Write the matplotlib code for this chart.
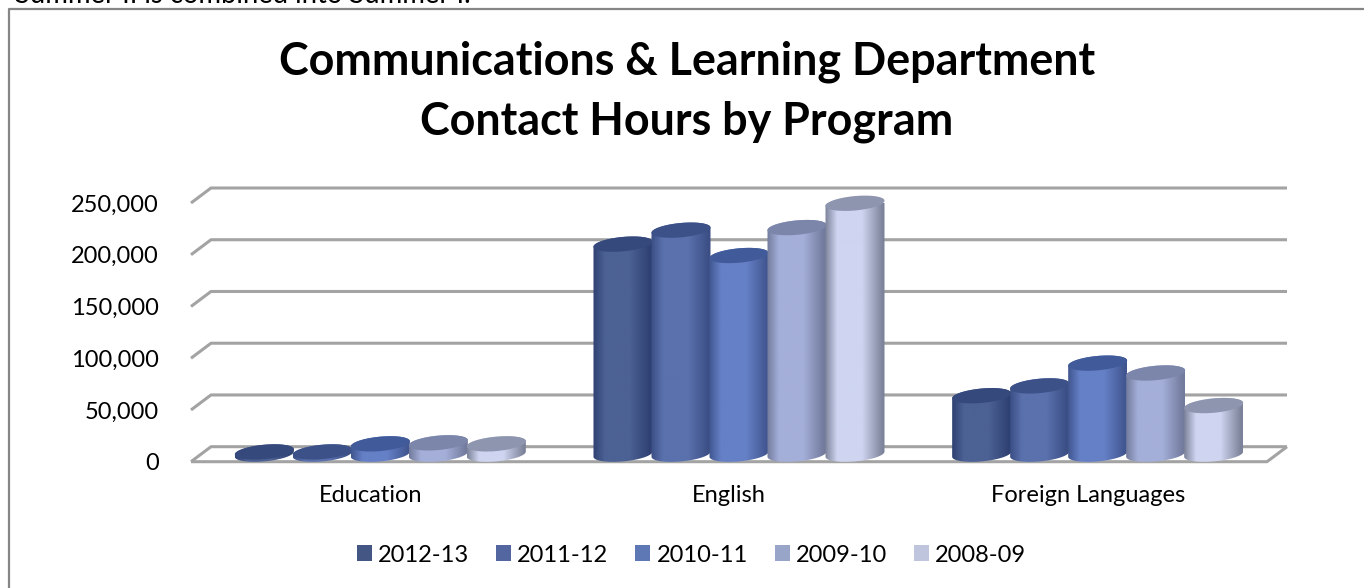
import numpy as np
import matplotlib
matplotlib.use("Agg")
import matplotlib.pyplot as plt
from matplotlib.colors import LinearSegmentedColormap
from matplotlib.lines import Line2D
from matplotlib.patches import Patch, PathPatch
from matplotlib.path import Path

# data
categories = ["Education", "English", "Foreign Languages"]
series_names = ["2012-13", "2011-12", "2010-11", "2009-10", "2008-09"]
hours_2012_13 = [2200, 203000, 56500]
hours_2011_12 = [2200, 216500, 66000]
hours_2010_11 = [10000, 192000, 88000]
hours_2009_10 = [11000, 219000, 78500]
hours_2008_09 = [10000, 242500, 47000]
all_hours = [hours_2012_13, hours_2011_12, hours_2010_11, hours_2009_10, hours_2008_09]
y_ticks = [0, 50000, 100000, 150000, 200000, 250000]

# edge, centre, top and legend colour of each series
edge_colors = ["#2f4172", "#3b4e85", "#415690", "#727b9c", "#7b8299"]
centre_colors = ["#4c6194", "#5a71ad", "#6580c6", "#a4afd9", "#cfd5f0"]
top_colors = ["#36497c", "#3d5189", "#415a9a", "#7c86aa", "#8e95ae"]
legend_colors = ["#445684", "#5366a0", "#5e78b5", "#98a5c9", "#bec5dc"]

W, H = 1364, 588
LEFT, RIGHT, BOTTOM, TOP = 191, 1267, 461.7, 203  # front plane of the chart, in pixels
plt.rcParams["font.family"] = ["Lato", "DejaVu Sans"]

fig = plt.figure(figsize=(W / 100, H / 100), dpi=100)
ax = fig.add_axes([LEFT / W, 1 - BOTTOM / H, (RIGHT - LEFT) / W, (BOTTOM - TOP) / H])
ax.set_xlim(-0.5, 2.5)
ax.set_ylim(0, 250000)
ax.patch.set_visible(False)
for s in ax.spines.values():
    s.set_visible(False)

px_x = 3 / (RIGHT - LEFT)  # one pixel in category units
px_y = 250000 / (BOTTOM - TOP)  # one pixel in value units
depth_x = 20 * px_x
depth_y = 15 * px_y

# walls: one bent line per tick, and the floor
grid_color = "#a3a3a3"
for v in y_ticks:
    ax.plot([-0.5, -0.5 + depth_x, 2.5 + depth_x], [v, v + depth_y, v + depth_y],
            color=grid_color, lw=2.2, clip_on=False, zorder=1, solid_capstyle="butt")
ax.plot([-0.5, 2.5, 2.5 + depth_x], [0, 0, depth_y], color=grid_color, lw=2.2,
        clip_on=False, zorder=1, solid_capstyle="butt")

half_w = 29.5 * px_x
half_h = 7.2 * px_y
shear = 2.6 * px_y  # left side of the ellipse sits lower than the right
step = 58 * px_x
ts = np.linspace(0, 2 * np.pi, 121)


def ellipse_xy(cx, cy, t):
    return cx + half_w * np.cos(t), cy + half_h * np.sin(t) + shear * np.cos(t)


def draw_cylinder(cx, base, value, i, z):
    top = base + value
    # body outline: lower half of the bottom ellipse, then upper half of the top one
    xb, yb = ellipse_xy(cx, base, np.linspace(np.pi, 2 * np.pi, 60))
    xt, yt = ellipse_xy(cx, top, np.linspace(0, np.pi, 60))
    body = Path(np.column_stack([np.r_[xb, xt], np.r_[yb, yt]]))
    cmap = LinearSegmentedColormap.from_list(
        "c", [(0, edge_colors[i]), (0.2, centre_colors[i]), (0.62, centre_colors[i]),
              (0.97, edge_colors[i]), (1, edge_colors[i])])
    im = ax.imshow(np.linspace(0, 1, 200)[None, :], cmap=cmap, aspect="auto",
                   extent=[cx - half_w, cx + half_w, base - half_h * 2, top + half_h * 3],
                   zorder=z, interpolation="bilinear")
    im.set_clip_path(PathPatch(body, transform=ax.transData))
    xe, ye = ellipse_xy(cx, top, ts)
    ax.fill(xe, ye, color=top_colors[i], lw=0, zorder=z + 0.5, clip_on=False)


base_y = depth_y / 2
for c in range(len(categories)):
    for i, values in enumerate(all_hours):
        cx = c + depth_x / 2 + (i - 2) * step
        draw_cylinder(cx, base_y, values[c], i, 2 + i)

ax.set_xlim(-0.5, 2.5)
ax.set_ylim(0, 250000)

ax.set_yticks(y_ticks)
ax.set_yticklabels([f"{v:,}" for v in y_ticks], fontsize=17, color="black")
ax.set_xticks(range(len(categories)))
ax.set_xticklabels(categories, fontsize=17, color="black")
ax.tick_params(axis="both", length=0)
ax.tick_params(axis="y", pad=23)
ax.tick_params(axis="x", pad=17)

handles = [Patch(facecolor=col, edgecolor="none") for col in legend_colors]
fig.legend(handles, series_names, loc="center", bbox_to_anchor=(691.5 / W, 1 - 555 / H),
           ncol=5, frameon=False, fontsize=17, handlelength=0.64, handleheight=0.64,
           handletextpad=0.25, columnspacing=1.15, borderpad=0)

fig.text(687 / W, 1 - 92 / H, "Communications & Learning Department\nContact Hours by Program",
         ha="center", va="center", fontsize=32.3, fontweight="bold", linespacing=1.52, color="black")
fig.text(15 / W, 1 - 3 / H, "Summer II is combined into Summer I.", fontsize=19.8, color="black",
         va="baseline")

# chart frame: only the top and left sides are inside the picture
fig.add_artist(Line2D([9 / W, 9 / W, 1], [0, 1 - 9 / H, 1 - 9 / H], transform=fig.transFigure,
                      color="#868686", lw=1.6))

fig.savefig("out.png", dpi=100)
